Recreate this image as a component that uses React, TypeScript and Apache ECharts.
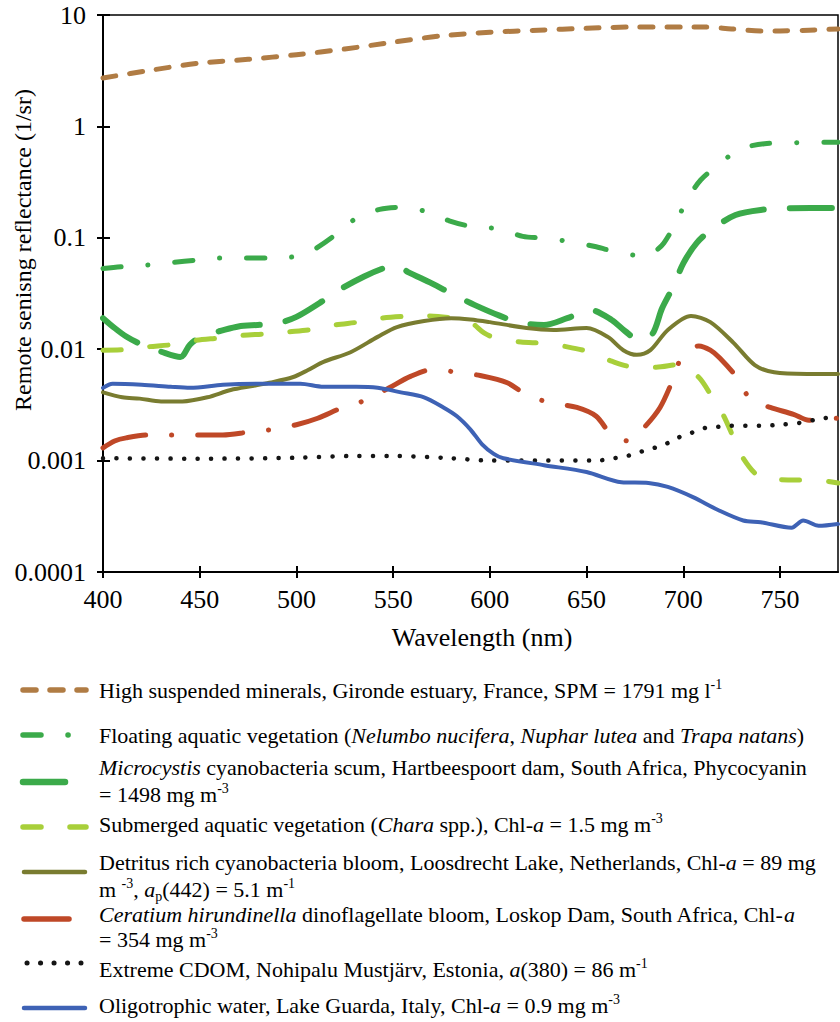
import React, { useEffect, useRef } from "react";
import * as echarts from "echarts";

const FONT = "Liberation Serif, Times New Roman, serif";

// ---------- data ----------
const xTicks = [400, 450, 500, 550, 600, 650, 700, 750];
const yTickLabels = ["0.0001", "0.001", "0.01", "0.1", "1", "10"];

const spmWl = [400, 425, 450, 475, 500, 525, 550, 575, 600, 625, 650, 675, 700, 710, 725, 740, 750, 765, 780];
const spmVal = [2.72, 3.2, 3.7, 4.0, 4.4, 4.95, 5.7, 6.5, 7.0, 7.3, 7.6, 7.8, 7.8, 7.8, 7.5, 7.2, 7.2, 7.3, 7.5];

const favWl = [400, 410, 423, 436, 448, 460, 473, 485, 497, 505, 510, 520, 531, 543, 555, 568, 579, 590, 605, 617, 629, 642, 655, 666, 679, 685, 690, 696, 702, 709, 718, 729, 742, 754, 767, 780];
const favVal = [0.053, 0.055, 0.057, 0.06, 0.063, 0.066, 0.066, 0.066, 0.067, 0.072, 0.08, 0.106, 0.15, 0.18, 0.188, 0.17, 0.142, 0.127, 0.12, 0.103, 0.099, 0.092, 0.083, 0.074, 0.069, 0.075, 0.09, 0.135, 0.22, 0.33, 0.45, 0.62, 0.7, 0.71, 0.72, 0.72];

const micWl = [400, 406, 412, 420, 430, 440, 445, 452, 460, 470, 480, 490, 500, 512, 522, 535, 546, 552, 558, 570, 581, 592, 605, 616, 628, 640, 652, 663, 670, 677, 684, 689, 695, 700, 707, 715, 727, 740, 755, 780];
const micVal = [0.019, 0.0155, 0.013, 0.011, 0.0095, 0.0085, 0.011, 0.0134, 0.0145, 0.016, 0.0165, 0.017, 0.0195, 0.026, 0.034, 0.045, 0.054, 0.056, 0.049, 0.039, 0.031, 0.025, 0.02, 0.0172, 0.0165, 0.019, 0.0225, 0.0183, 0.0145, 0.0121, 0.0137, 0.0232, 0.037, 0.059, 0.09, 0.12, 0.16, 0.178, 0.184, 0.185];

const savWl = [400, 411, 423, 436, 448, 460, 472, 484, 496, 508, 520, 532, 544, 556, 568, 581, 590, 597, 603, 616, 628, 640, 652, 663, 675, 686, 698, 708, 715, 721, 726, 731, 739, 747, 758, 768, 780];
const savVal = [0.0098, 0.0099, 0.0105, 0.011, 0.012, 0.0126, 0.0133, 0.0137, 0.0143, 0.015, 0.0165, 0.0175, 0.019, 0.0197, 0.0199, 0.019, 0.0175, 0.014, 0.0126, 0.0116, 0.0113, 0.0105, 0.0094, 0.0078, 0.0069, 0.0069, 0.0073, 0.0056, 0.0037, 0.0025, 0.0016, 0.00105, 0.00072, 0.00068, 0.00067, 0.00067, 0.00063];

const detWl = [400, 410, 419, 430, 441, 454, 466, 478, 486, 498, 506, 514, 528, 542, 552, 566, 580, 590, 600, 619, 633, 650, 661, 669, 676, 683, 692, 704, 714, 726, 737, 747, 764, 780];
const detVal = [0.0041, 0.0037, 0.0036, 0.0034, 0.0034, 0.0037, 0.0043, 0.0047, 0.005, 0.0056, 0.0065, 0.0077, 0.0094, 0.0129, 0.0158, 0.0179, 0.019, 0.0185, 0.0175, 0.0155, 0.0149, 0.0155, 0.0129, 0.0098, 0.0089, 0.0098, 0.0149, 0.0199, 0.0175, 0.0114, 0.0072, 0.0062, 0.006, 0.006];

const cerWl = [400, 406, 412, 424, 436, 450, 462, 475, 487, 500, 511, 524, 536, 548, 559, 571, 583, 595, 609, 620, 632, 645, 655, 663, 672, 680, 688, 694, 699, 708, 714, 719, 728, 735, 745, 757, 765, 773, 780];
const cerVal = [0.0013, 0.0015, 0.0016, 0.0017, 0.0017, 0.0017, 0.0017, 0.0018, 0.0019, 0.0021, 0.0024, 0.003, 0.0035, 0.0045, 0.0057, 0.0066, 0.0062, 0.0058, 0.005, 0.0038, 0.0033, 0.003, 0.0025, 0.0017, 0.0015, 0.002, 0.003, 0.005, 0.0083, 0.0107, 0.0098, 0.0083, 0.0055, 0.0035, 0.003, 0.0026, 0.0023, 0.0024, 0.0024];

const cdomWl = [400, 450, 500, 530, 550, 580, 600, 630, 655, 664, 671, 678, 685, 691, 697, 704, 711, 717, 724, 740, 750, 760, 770, 780];
const cdomVal = [0.00105, 0.00104, 0.00106, 0.0011, 0.0011, 0.00105, 0.001, 0.001, 0.001, 0.00105, 0.0011, 0.0012, 0.0013, 0.00141, 0.0016, 0.00177, 0.00196, 0.002, 0.00205, 0.00205, 0.0021, 0.00218, 0.00236, 0.0025];

const oliWl = [400, 405, 420, 435, 445, 462, 480, 502, 514, 531, 542, 554, 566, 576, 583, 590, 596, 602, 607, 628, 650, 668, 682, 692, 705, 718, 731, 740, 756, 762, 770, 780];
const oliVal = [0.0045, 0.0049, 0.0048, 0.0046, 0.0045, 0.0048, 0.0049, 0.0049, 0.0046, 0.0046, 0.0045, 0.0041, 0.0037, 0.003, 0.0025, 0.0019, 0.0014, 0.00115, 0.00105, 0.00091, 0.00079, 0.00064, 0.00063, 0.00058, 0.00047, 0.00036, 0.00029, 0.00028, 0.00025, 0.00029, 0.00026, 0.00027];

// ---------- styles ----------
const C_SPM = "#B07C44";
const C_FAV = "#3BAA4A";
const C_MIC = "#3BAA4A";
const C_SAV = "#A8CF3A";
const C_DET = "#797C30";
const C_CER = "#BF4827";
const C_CDOM = "#151515";
const C_OLI = "#3E62B5";

const seriesDefs = [
  { name: "High suspended minerals", wl: spmWl, val: spmVal, color: C_SPM, width: 5, dash: [13, 14] as any },
  { name: "Floating aquatic vegetation", wl: favWl, val: favVal, color: C_FAV, width: 5, dash: [18, 27, 0.1, 27] as any },
  { name: "Microcystis", wl: micWl, val: micVal, color: C_MIC, width: 6, dash: [42, 26] as any },
  { name: "Submerged aquatic vegetation", wl: savWl, val: savVal, color: C_SAV, width: 5, dash: [18, 29] as any },
  { name: "Detritus", wl: detWl, val: detVal, color: C_DET, width: 4, dash: "solid" as any },
  { name: "Ceratium", wl: cerWl, val: cerVal, color: C_CER, width: 5, dash: [45, 26, 0.1, 26] as any },
  { name: "Extreme CDOM", wl: cdomWl, val: cdomVal, color: C_CDOM, width: 4.5, dash: [0.1, 13.4] as any },
  { name: "Oligotrophic water", wl: oliWl, val: oliVal, color: C_OLI, width: 4, dash: "solid" as any },
];

const legendLines = [
  ["High suspended minerals, Gironde estuary, France, SPM = 1791 mg l{sup|-1}"],
  ["Floating aquatic vegetation ({i|Nelumbo nucifera}, {i|Nuphar lutea} and {i|Trapa natans})"],
  ["{i|Microcystis} cyanobacteria scum, Hartbeespoort dam, South Africa, Phycocyanin", "= 1498 mg m{sup|-3}"],
  ["Submerged aquatic vegetation ({i|Chara} spp.), Chl-{i|a} = 1.5 mg m{sup|-3}"],
  ["Detritus rich cyanobacteria bloom, Loosdrecht Lake, Netherlands, Chl-{i|a} = 89 mg", "m {sup|-3}, {i|a}{sub|p}(442) = 5.1 m{sup|-1}"],
  ["{i|Ceratium hirundinella} dinoflagellate bloom, Loskop Dam, South Africa, Chl-{i|a}", "= 354 mg m{sup|-3}"],
  ["Extreme CDOM, Nohipalu Mustjärv, Estonia, {i|a}(380) = 86 m{sup|-1}"],
  ["Oligotrophic water, Lake Guarda, Italy, Chl-{i|a} = 0.9 mg m{sup|-3}"],
];
const legendBaselines = [[698], [743], [775, 802], [832], [870, 897], [922, 947], [977], [1013]];
const legendSampleY = [690, 735, 782, 827, 872, 919, 963, 1008];
const legendSampleX = [[23, 86], [23, 76], [23, 77], [23, 86], [24, 85], [24, 77], [27, 81], [24, 85]];

function parseSegs(s: string) {
  const out: { t: string; k: string }[] = [];
  const re = /\{(i|sup|sub)\|([^}]*)\}/g;
  let last = 0;
  let m: RegExpExecArray | null;
  while ((m = re.exec(s))) {
    if (m.index > last) out.push({ t: s.slice(last, m.index), k: "n" });
    out.push({ t: m[2], k: m[1] });
    last = m.index + m[0].length;
  }
  if (last < s.length) out.push({ t: s.slice(last), k: "n" });
  return out;
}

export default function App() {
  const ref = useRef<HTMLDivElement>(null);
  useEffect(() => {
    if (!ref.current) return;
    const chart = echarts.init(ref.current, null, { renderer: "svg" });
    const ctx = document.createElement("canvas").getContext("2d")!;
    const measure = (t: string, size: number, italic: boolean) => {
      ctx.font = (italic ? "italic " : "") + size + "px " + FONT;
      return ctx.measureText(t).width;
    };

    const series = seriesDefs.map((s) => ({
      name: s.name,
      type: "line",
      xAxisIndex: 0,
      yAxisIndex: 0,
      data: s.wl.map((w, i) => [w, s.val[i]]),
      showSymbol: false,
      smooth: 0.3,
      clip: true,
      lineStyle: { color: s.color, width: s.width, type: s.dash, cap: "round", join: "round" },
    }));

    const graphics: any[] = [];
    legendLines.forEach((lines, k) => {
      const s = seriesDefs[k];
      graphics.push({
        type: "line",
        shape: { x1: legendSampleX[k][0], y1: legendSampleY[k], x2: legendSampleX[k][1], y2: legendSampleY[k] },
        style: {
          stroke: s.color,
          lineWidth: s.width + 0.5,
          lineDash: Array.isArray(s.dash) ? s.dash : null,
          lineCap: "round",
        },
      });
      lines.forEach((line, j) => {
        const base = legendBaselines[k][j];
        let x = 99;
        parseSegs(line).forEach((seg) => {
          const small = seg.k === "sup" || seg.k === "sub";
          const size = small ? 14 : 22;
          const italic = seg.k === "i";
          const lead = seg.t.length - seg.t.replace(/^\s+/, "").length;
          if (lead > 0) x += measure(seg.t.slice(0, lead), size, italic);
          const txt = seg.t.slice(lead);
          const w = measure(txt, size, italic);
          const yMid = seg.k === "sup" ? base - 9 - 4.7 : seg.k === "sub" ? base + 4 - 4.7 : base - 7.4;
          if (txt.trim().length > 0) {
            graphics.push({
              type: "text",
              x,
              y: yMid,
              style: {
                text: txt,
                fontFamily: FONT,
                fontSize: size,
                fontStyle: italic ? "italic" : "normal",
                fill: "#000",
                verticalAlign: "middle",
              },
            });
          }
          x += w;
        });
      });
    });
    graphics.push({
      type: "text",
      x: 23,
      y: 250,
      rotation: Math.PI / 2,
      style: {
        text: "Remote senisng reflectance (1/sr)",
        fontFamily: FONT,
        fontSize: 24,
        fill: "#000",
        align: "center",
        verticalAlign: "middle",
      },
    });
    graphics.push({
      type: "text",
      x: 482,
      y: 637,
      style: {
        text: "Wavelength (nm)",
        fontFamily: FONT,
        fontSize: 26,
        fill: "#000",
        align: "center",
        verticalAlign: "middle",
      },
    });

    const baseX = {
      type: "value",
      min: 400,
      max: 780,
      interval: 50,
      splitLine: { show: false },
    };
    const baseY = {
      type: "log",
      logBase: 10,
      min: 0.0001,
      max: 10,
      splitLine: { show: false },
    };

    chart.setOption({
      animation: false,
      backgroundColor: "#fff",
      grid: { left: 103, right: 2, top: 15, bottom: 450, show: true, borderColor: "#000", borderWidth: 1.5 },
      xAxis: [
        {
          ...baseX,
          axisLine: { show: true, lineStyle: { color: "#000", width: 2 } },
          axisTick: { show: true, inside: false, length: 6, lineStyle: { color: "#000", width: 2 }, customValues: xTicks },
          axisLabel: { show: true, customValues: xTicks, margin: 14, color: "#000", fontFamily: FONT, fontSize: 26 },
        },
        {
          ...baseX,
          position: "bottom",
          axisLine: { show: false },
          axisTick: { show: true, inside: true, length: 6, lineStyle: { color: "#000", width: 2 }, customValues: xTicks },
          axisLabel: { show: false },
        },
      ],
      yAxis: [
        {
          ...baseY,
          axisLine: { show: true, lineStyle: { color: "#000", width: 2 } },
          axisTick: { show: true, inside: false, length: 6, lineStyle: { color: "#000", width: 2 } },
          axisLabel: {
            show: true,
            margin: 17,
            color: "#000",
            fontFamily: FONT,
            fontSize: 26,
            formatter: (v: number) => {
              const e = Math.round(Math.log10(v));
              return yTickLabels[e + 4] ?? "";
            },
          },
        },
        {
          ...baseY,
          position: "left",
          axisLine: { show: false },
          axisTick: { show: true, inside: true, length: 7, lineStyle: { color: "#000", width: 2 } },
          axisLabel: { show: false },
        },
      ],
      series,
      graphic: graphics,
    });
    return () => chart.dispose();
  }, []);
  return <div ref={ref} style={{ width: 840, height: 1022, position: "absolute", left: 0, top: 0 }} />;
}
